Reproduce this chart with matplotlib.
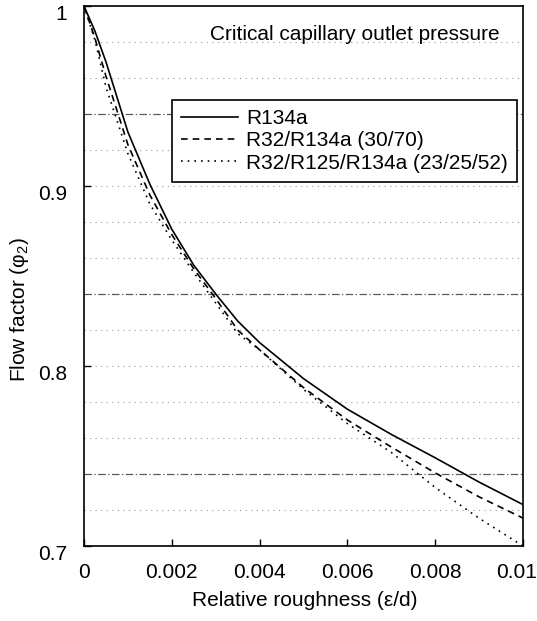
import numpy as np
import matplotlib
matplotlib.use("Agg")
import matplotlib.pyplot as plt
from matplotlib.transforms import ScaledTranslation

plt.rcParams["font.family"] = ["Liberation Sans", "DejaVu Sans"]
plt.rcParams["mathtext.fontset"] = "custom"
plt.rcParams["mathtext.rm"] = "Liberation Sans"
plt.rcParams["mathtext.it"] = "Liberation Sans:italic"

# ------------------------------------------------------------
# Datos
# ------------------------------------------------------------
rel_rough = [0.0, 0.00025, 0.0005, 0.001, 0.0015, 0.002, 0.0025, 0.003,
             0.0035, 0.004, 0.005, 0.006, 0.007, 0.008, 0.009, 0.01]

phi_r134a = [1.0, 0.986, 0.969, 0.930, 0.901, 0.876, 0.856, 0.840,
             0.825, 0.813, 0.793, 0.776, 0.762, 0.749, 0.7355, 0.723]

phi_r32_r134a = [1.0, 0.982, 0.961, 0.923, 0.895, 0.873, 0.854, 0.8375,
                 0.820, 0.809, 0.788, 0.770, 0.755, 0.7406, 0.7273, 0.7155]

phi_r32_r125_r134a = [1.0, 0.981, 0.955, 0.918, 0.890, 0.870, 0.852, 0.835,
                      0.818, 0.809, 0.787, 0.768, 0.752, 0.7325, 0.7154, 0.700]

series_labels = ["R134a", "R32/R134a (30/70)", "R32/R125/R134a (23/25/52)"]

x_ticks = [0, 0.002, 0.004, 0.006, 0.008, 0.01]
x_tick_labels = ["0", "0.002", "0.004", "0.006", "0.008", "0.01"]
y_ticks = [0.7, 0.8, 0.9, 1.0]
y_tick_labels = ["0.7", "0.8", "0.9", "1"]

# líneas de fondo del papel escaneado
faint_rows = [0.72, 0.76, 0.78, 0.80, 0.82, 0.86, 0.88, 0.90, 0.92, 0.96, 0.98]
strong_rows = [0.74, 0.84, 0.94]

# ------------------------------------------------------------
# Figura
# ------------------------------------------------------------
fig = plt.figure(figsize=(5.37, 6.21), dpi=100)
ax = fig.add_axes([84 / 537, 1 - 546 / 621, 439 / 537, 540 / 621])

for yv in faint_rows:
    ax.axhline(yv, color="0.6", lw=0.8, ls=(0, (1, 4)), zorder=0)
for yv in strong_rows:
    ax.axhline(yv, color="0.35", lw=0.9, ls=(0, (6, 2, 1, 2)), zorder=0)

ax.plot(rel_rough, phi_r134a, color="black", lw=1.2, ls="-", label=series_labels[0])
ax.plot(rel_rough, phi_r32_r134a, color="black", lw=1.2, ls=(0, (4, 3)), label=series_labels[1])
ax.plot(rel_rough, phi_r32_r125_r134a, color="black", lw=1.2, ls=(0, (1, 3)), label=series_labels[2])

ax.set_xlim(0, 0.01)
ax.set_ylim(0.7, 1.0)
ax.set_xticks(x_ticks)
ax.set_xticklabels(x_tick_labels)
ax.set_yticks(y_ticks)
ax.set_yticklabels(y_tick_labels)
ax.tick_params(direction="in", length=5, width=1, labelsize=15, colors="black")
ax.tick_params(axis="x", pad=12)
ax.tick_params(axis="y", pad=12)
for lab in ax.get_yticklabels():
    lab.set_transform(lab.get_transform() + ScaledTranslation(0, -7 / 100, fig.dpi_scale_trans))
# la última etiqueta queda pegada al borde: se desplaza un poco
last = ax.get_xticklabels()[-1]
last.set_transform(last.get_transform() + ScaledTranslation(-6 / 100, 0, fig.dpi_scale_trans))

for sp in ax.spines.values():
    sp.set_linewidth(1.2)

ax.set_xlabel("Relative roughness (ε/d)", fontsize=15)
ax.xaxis.set_label_coords((305 - 84) / 439, -(600 - 546) / 540)
ax.xaxis.label.set_va("center")
ax.set_ylabel("Flow factor (φ$_2$)", fontsize=15)
ax.yaxis.set_label_coords((20 - 84) / 439, (546 - 310) / 540)
ax.yaxis.label.set_va("center")

ax.text((210 - 84) / 439, (546 - 35) / 540, "Critical capillary outlet pressure",
        transform=ax.transAxes, fontsize=15, ha="left", va="center")

leg = ax.legend(loc="upper left", bbox_to_anchor=((172 - 84) / 439, (546 - 100) / 540),
                borderaxespad=0, fontsize=15, frameon=True, fancybox=False,
                edgecolor="black", framealpha=1, handlelength=2.7,
                handletextpad=0.4, labelspacing=0.15, borderpad=0.45)
leg.get_frame().set_linewidth(1.2)

fig.savefig("out.png", dpi=100)
